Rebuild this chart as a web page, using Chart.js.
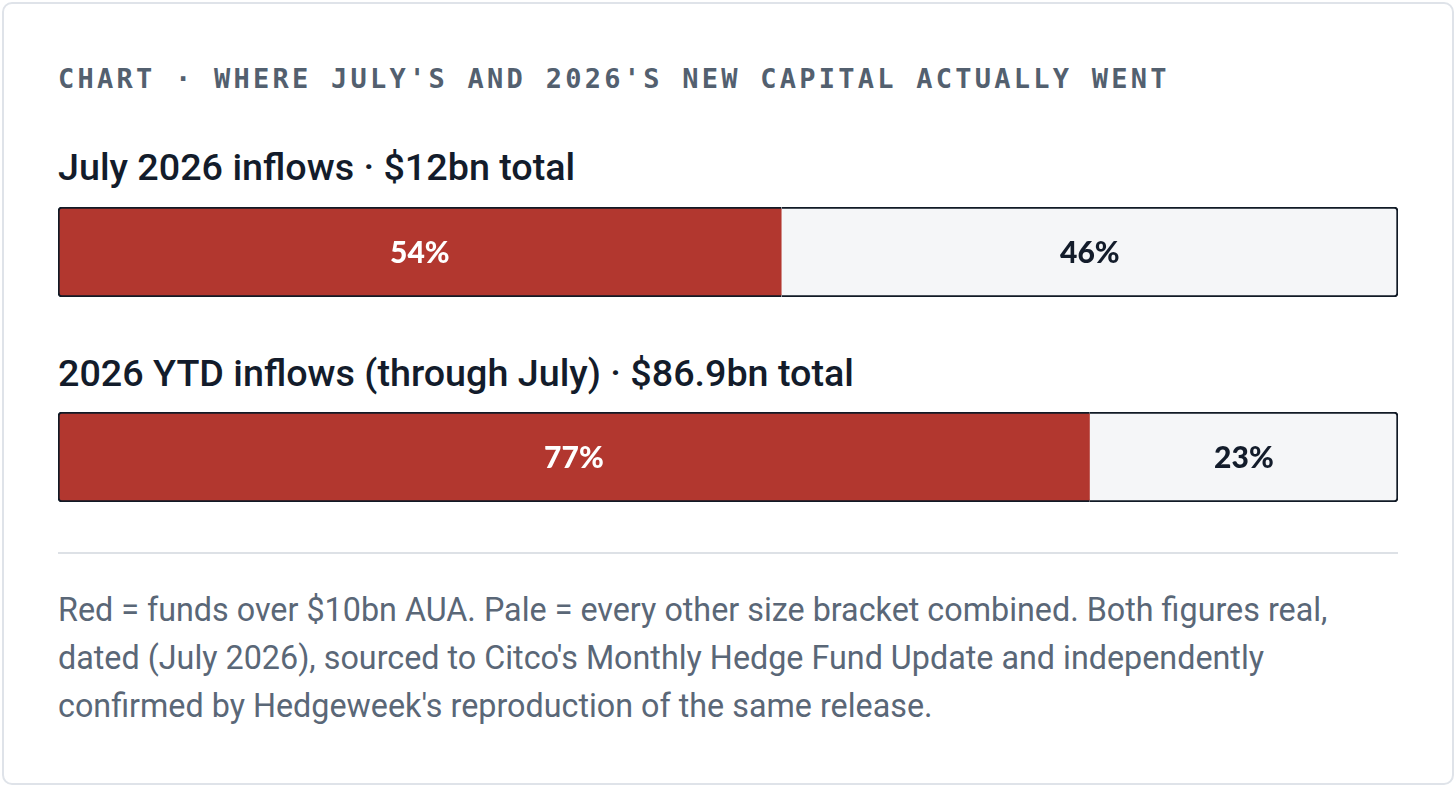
<!DOCTYPE html>
<html>
<head>
<meta charset="utf-8">
<script src="https://cdn.jsdelivr.net/npm/chart.js@4.4.1/dist/chart.umd.min.js"></script>
<style>
  html, body { margin: 0; padding: 0; background: #ffffff; }
  body { width: 1456px; height: 787px; position: relative; overflow: hidden; }
  .card { position: absolute; left: 2px; top: 2px; width: 1448px; height: 779px; border: 2px solid #dfe3e9; border-radius: 10px; background: #fff; }
  .title { position: absolute; left: 58px; top: 62px; font-family: "DejaVu Sans Mono", monospace; font-weight: bold; font-size: 27px; line-height: 34px; letter-spacing: 3.25px; color: #53606f; white-space: nowrap; }
  .heading { position: absolute; left: 58px; font-family: Roboto, sans-serif; font-weight: 500; font-size: 37.7px; line-height: 44px; color: #131c2b; white-space: nowrap; }
  .barbox { position: absolute; left: 58px; width: 1340px; height: 90px; }
  .divider { position: absolute; left: 58px; top: 552px; width: 1340px; height: 2px; background: #dde1e6; }
  .note { position: absolute; left: 58px; top: 586px; font-family: Roboto, sans-serif; font-weight: 400; font-size: 32.3px; line-height: 48px; color: #5a6777; white-space: nowrap; }
</style>
</head>
<body>
<div class="card"></div>
<div class="title" id="title"></div>
<div class="heading" id="h0" style="top:145px"></div>
<div class="barbox" style="top:207px"><canvas id="c0"></canvas></div>
<div class="heading" id="h1" style="top:351px"></div>
<div class="barbox" style="top:412px"><canvas id="c1"></canvas></div>
<div class="divider"></div>
<div class="note" id="note"></div>
<script>
const chartTitle = "CHART · WHERE JULY'S AND 2026'S NEW CAPITAL ACTUALLY WENT";
const rowTitles = ["July 2026 inflows · $12bn total", "2026 YTD inflows (through July) · $86.9bn total"];
const seriesNames = ["Funds over $10bn AUA", "Every other size bracket"];
const largeFundShare = [54, 77];
const otherShare = [46, 23];
const noteLines = [
  "Red = funds over $10bn AUA. Pale = every other size bracket combined. Both figures real,",
  "dated (July 2026), sourced to Citco's Monthly Hedge Fund Update and independently",
  "confirmed by Hedgeweek's reproduction of the same release."
];

document.getElementById('title').textContent = chartTitle;
document.getElementById('h0').textContent = rowTitles[0];
document.getElementById('h1').textContent = rowTitles[1];
const noteEl = document.getElementById('note');
noteLines.forEach((l, i) => { if (i) noteEl.appendChild(document.createElement('br')); noteEl.appendChild(document.createTextNode(l)); });

const RED = '#b2372f', PALE = '#f5f6f8', EDGE = '#111a26';

const labelPlugin = {
  id: 'segLabels',
  afterDatasetsDraw(chart) {
    const ctx = chart.ctx;
    ctx.save();
    ctx.font = '900 30px Lato, sans-serif';
    ctx.textAlign = 'center';
    ctx.textBaseline = 'middle';
    chart.data.datasets.forEach((ds, di) => {
      const meta = chart.getDatasetMeta(di);
      meta.data.forEach((bar, i) => {
        const p = bar.getProps(['x', 'y', 'base'], true);
        ctx.fillStyle = di === 0 ? '#ffffff' : '#131c2b';
        ctx.fillText(ds.data[i] + '%', (p.x + p.base) / 2, p.y + 1);
      });
    });
    ctx.restore();
  }
};

function makeChart(id, idx) {
  new Chart(document.getElementById(id), {
    type: 'bar',
    data: {
      labels: [rowTitles[idx]],
      datasets: [
        { label: seriesNames[0], data: [largeFundShare[idx]], backgroundColor: RED, borderColor: EDGE,
          borderWidth: { top: 2, bottom: 2, left: 2, right: 0 }, borderSkipped: false,
          borderRadius: { topLeft: 4, bottomLeft: 4, topRight: 0, bottomRight: 0 } },
        { label: seriesNames[1], data: [otherShare[idx]], backgroundColor: PALE, borderColor: EDGE,
          borderWidth: { top: 2, bottom: 2, left: 0, right: 2 }, borderSkipped: false,
          borderRadius: { topLeft: 0, bottomLeft: 0, topRight: 4, bottomRight: 4 } }
      ]
    },
    options: {
      indexAxis: 'y',
      responsive: true,
      maintainAspectRatio: false,
      animation: false,
      barPercentage: 1,
      categoryPercentage: 1,
      layout: { padding: 0 },
      scales: {
        x: { stacked: true, min: 0, max: 100, display: false },
        y: { stacked: true, display: false }
      },
      plugins: { legend: { display: false }, tooltip: { enabled: false } }
    },
    plugins: [labelPlugin]
  });
}
makeChart('c0', 0);
makeChart('c1', 1);
</script>
</body>
</html>
